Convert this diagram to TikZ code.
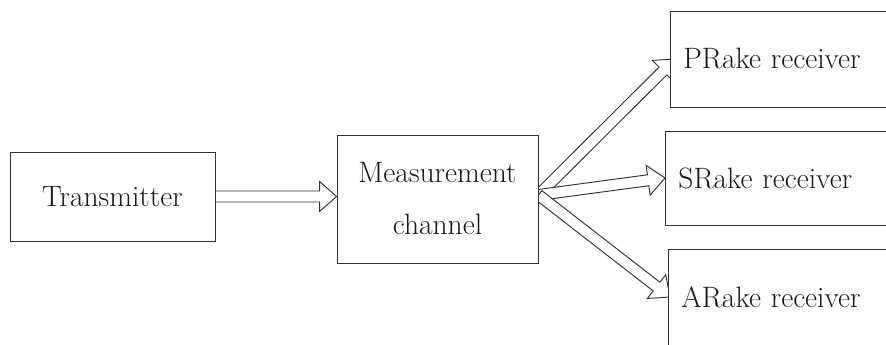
\documentclass[tikz,border=0pt]{standalone}
\usetikzlibrary{calc,backgrounds}

% hollow block arrow from #1 to #2
\newcommand{\hollowarrow}[2]{%
  \coordinate (hb) at ($(#2)!17pt!(#1)$);
  \draw[harrow] ($(#1)!5.5pt!90:(#2)$) -- ($(hb)!5.5pt!90:(#2)$) -- ($(hb)!15pt!90:(#2)$) -- (#2)
    -- ($(hb)!15pt!-90:(#2)$) -- ($(hb)!5.5pt!-90:(#2)$) -- ($(#1)!5.5pt!-90:(#2)$) -- cycle;}

\begin{document}
\begin{tikzpicture}[x=1pt,y=1pt,
    every node/.style={font=\fontsize{29.5}{52}\selectfont,text=black!90},
    block/.style={draw=black!80,line width=0.9pt,fill=white,inner sep=0pt},
    rxbox/.style={block,anchor=west,minimum height=96pt,text width=204pt,inner xsep=13pt,align=left},
    harrow/.style={draw=black!80,line width=0.95pt,fill=white,line join=miter}]
  \useasboundingbox (0,0) rectangle (886,345);
  \clip (0,0) rectangle (886,345);

  % Transmitter and channel
  \node[block,minimum width=205pt,minimum height=89pt] (tx) at (112.5,148.5) {Transmitter};
  \node[block,minimum width=201pt,minimum height=128pt,align=center] (mc) at (437.5,146) {Measurement\\channel};

  % Receivers
  \node[rxbox] (pr) at (670,286) {PRake receiver};
  \node[rxbox,minimum height=94pt] (sr) at (665,167) {SRake receiver};
  \node[rxbox] (ar) at (668,48) {ARake receiver};

  \coordinate (mcin) at (tx.east -| mc.west);
  \coordinate (fork) at ([yshift=4pt]mc.east);
  \coordinate (prin) at ([xshift=5pt]pr.west);
  \coordinate (srin) at (sr.west);
  \coordinate (arin) at ([xshift=2pt]ar.west);

  % Arrows
  \begin{scope}[on background layer]
    \hollowarrow{tx.east}{mcin}
    \hollowarrow{fork}{prin}
    \hollowarrow{fork}{srin}
    \hollowarrow{fork}{arin}
  \end{scope}
\end{tikzpicture}
\end{document}
